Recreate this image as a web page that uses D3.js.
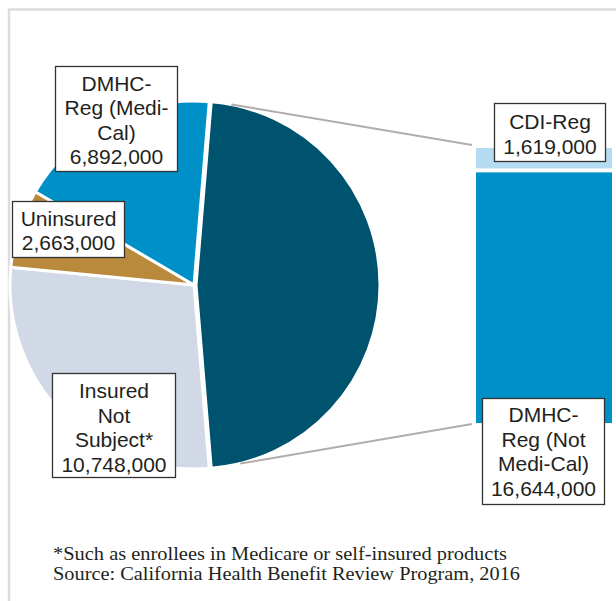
<!DOCTYPE html>
<html><head><meta charset="utf-8">
<script src="https://cdn.jsdelivr.net/npm/d3@7"></script>
<style>
html,body{margin:0;padding:0;background:#fff;}
svg{display:block;}
</style></head>
<body>
<svg id="chart" width="616" height="601"></svg>
<script>
// ---- data ----
const pieCategories = ["DMHC/CDI-Reg (Not Medi-Cal)", "Insured Not Subject*", "Uninsured", "DMHC-Reg (Medi-Cal)"];
const barCategories = ["DMHC-Reg (Not Medi-Cal)", "CDI-Reg"];
const barValues = [16644000, 1619000];
const pieOtherValues = [10748000, 2663000, 6892000];
const pieValues = [d3.sum(barValues)].concat(pieOtherValues);
const pieLabels = [null, ["Insured", "Not", "Subject*"], ["Uninsured"], ["DMHC-", "Reg (Medi-", "Cal)"]];
const barLabels = [["DMHC-", "Reg (Not", "Medi-Cal)"], ["CDI-Reg"]];
const footnotes = ["*Such as enrollees in Medicare or self-insured products",
                   "Source: California Health Benefit Review Program, 2016"];

const pieColors = ["#00536f", "#d1d8e6", "#b98a3b", "#0090c8"];
const barColors = ["#0090c8", "#b4dbf2"];
const fmt = d3.format(",");

const svg = d3.select("#chart");

// frame
svg.append("path").attr("d", "M9,601 V9.5 H616").attr("fill", "none")
  .attr("stroke", "#dcdcdc").attr("stroke-width", 2.5);

// ---- pie ----
const cx = 194, cy = 285, R = 184;
const total = d3.sum(pieValues);
const darkAngle = pieValues[0] / total * 2 * Math.PI;
const start = Math.PI / 2 - darkAngle / 2;
const pie = d3.pie().sort(null).value(d => d).startAngle(start).endAngle(start + 2 * Math.PI);
const arcs = pie(pieValues);
const arc = d3.arc().innerRadius(0).outerRadius(R);
const g = svg.append("g").attr("transform", `translate(${cx},${cy})`);
g.selectAll("path.slice").data(arcs).join("path")
  .attr("class", "slice")
  .attr("d", arc)
  .attr("transform", (d, i) => i === 0 ? "translate(2,0)" : null)
  .attr("fill", (d, i) => pieColors[i])
  .attr("stroke", "#fff").attr("stroke-width", 3).attr("stroke-linejoin", "round");

// ---- bar ----
const barX = 476, barW = 136;
const y = d3.scaleLinear().domain([0, d3.sum(barValues)]).range([423, 148]);
let acc = 0;
const segs = barValues.map((v, i) => { const s = {y0: acc, y1: acc + v, i}; acc += v; return s; });
svg.selectAll("rect.seg").data(segs).join("rect")
  .attr("class", "seg")
  .attr("x", barX).attr("width", barW)
  .attr("y", d => y(d.y1))
  .attr("height", d => y(d.y0) - y(d.y1) - (d.i === 1 ? 4 : 0))
  .attr("fill", d => barColors[d.i]);

// connector lines
const a0 = arcs[0].startAngle + 0.11, a1 = arcs[0].endAngle - 0.16;
const lineData = [
  [[cx + 2 + R * Math.sin(a0), cy - R * Math.cos(a0)], [barX - 4, y(d3.sum(barValues)) - 3]],
  [[cx + 2 + R * Math.sin(a1), cy - R * Math.cos(a1)], [barX - 4, y(0) + 1]]
];
svg.selectAll("line.conn").data(lineData).join("line")
  .attr("class", "conn")
  .attr("x1", d => d[0][0]).attr("y1", d => d[0][1])
  .attr("x2", d => d[1][0]).attr("y2", d => d[1][1])
  .attr("stroke", "#b3acad").attr("stroke-width", 2);

// ---- label boxes ----
function labelBox(x0, y0, x1, y1, lines, firstY) {
  svg.append("rect").attr("x", x0 + 0.5).attr("y", y0 + 0.5)
    .attr("width", x1 - x0).attr("height", y1 - y0)
    .attr("fill", "#fff").attr("stroke", "#333").attr("stroke-width", 1.3);
  const t = svg.append("text").attr("text-anchor", "middle")
    .attr("font-family", "Liberation Sans, Arial, sans-serif")
    .attr("font-size", 21).attr("fill", "#231f20");
  lines.forEach((l, i) => {
    t.append("tspan").attr("x", (x0 + x1) / 2 + 0.5).attr("y", firstY + i * 24.6).text(l);
  });
}
labelBox(55, 66, 177, 171, pieLabels[3].concat([fmt(pieOtherValues[2])]), 90.5);
labelBox(12, 201, 124, 257, pieLabels[2].concat([fmt(pieOtherValues[1])]), 225.5);
labelBox(52, 373, 175, 477, pieLabels[1].concat([fmt(pieOtherValues[0])]), 398);
labelBox(494, 103, 605, 161, barLabels[1].concat([fmt(barValues[1])]), 129);
labelBox(482, 398, 604, 504, barLabels[0].concat([fmt(barValues[0])]), 422);

// ---- footnotes ----
const footWidths = [454, 467];
footnotes.forEach((f, i) => {
  svg.append("text").attr("font-family", "Liberation Serif, Times New Roman, serif")
    .attr("font-size", 19.5).attr("fill", "#231f20")
    .attr("x", 53).attr("y", 560 + i * 19.5)
    .attr("textLength", footWidths[i]).attr("lengthAdjust", "spacingAndGlyphs")
    .text(f);
});
</script>
</body></html>
